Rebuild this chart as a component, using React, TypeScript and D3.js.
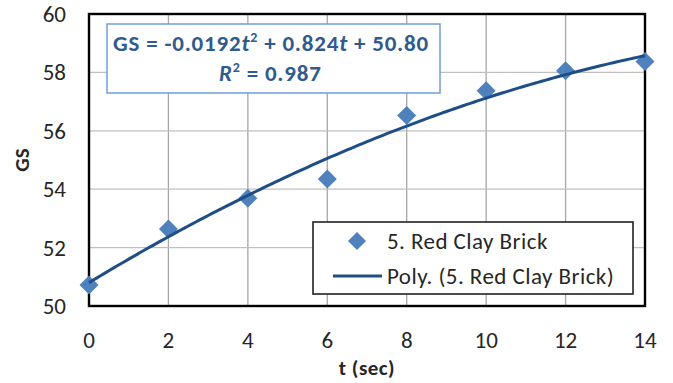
import React from "react";
import * as d3 from "d3";

const tValues = [0, 2, 4, 6, 8, 10, 12, 14];
const gsValues = [50.72, 52.64, 53.69, 54.35, 56.52, 57.37, 58.06, 58.37];
const xTicks = [0, 2, 4, 6, 8, 10, 12, 14];
const yTicks = [50, 52, 54, 56, 58, 60];
const polyCoeffs = [50.8, 0.824, -0.0192]; // c0 + c1 t + c2 t^2
const seriesName = "5. Red Clay Brick";
const trendName = "Poly. (5. Red Clay Brick)";

const W = 673;
const H = 383;
const M = { left: 89, right: 645, top: 14, bottom: 306 };
const FONT = "Carlito, 'Open Sans', 'DejaVu Sans', sans-serif";

export default function App() {
  const x = d3.scaleLinear().domain([0, 14]).range([M.left, M.right]);
  const y = d3.scaleLinear().domain([50, 60]).range([M.bottom, M.top]);
  const curvePts = d3.range(0, 14.001, 0.1).map((t) => [t, polyCoeffs[0] + polyCoeffs[1] * t + polyCoeffs[2] * t * t] as [number, number]);
  const line = d3.line<[number, number]>().x((d) => x(d[0])).y((d) => y(d[1]));
  const diamond = (cx: number, cy: number, r: number) => `M${cx},${cy - r}L${cx + r},${cy}L${cx},${cy + r}L${cx - r},${cy}Z`;
  const markerColor = "#4f81bd";
  const lineColor = "#1f4e86";
  const txt = "#262626";
  const eq = "#2f5b8f";
  return (
    <svg width={W} height={H} style={{ position: "absolute", left: 0, top: 0, background: "#fff" }} fontFamily={FONT}>
      <rect x={0} y={0} width={W} height={H} fill="#fff" />
      {xTicks.map((t) => (
        <line key={"gx" + t} x1={x(t)} x2={x(t)} y1={M.top} y2={M.bottom} stroke="#a6a6a6" strokeWidth={1.3} />
      ))}
      {yTicks.map((v) => (
        <line key={"gy" + v} x1={M.left} x2={M.right} y1={y(v)} y2={y(v)} stroke="#bfbfbf" strokeWidth={1.3} />
      ))}
      <rect x={M.left} y={M.top} width={M.right - M.left} height={M.bottom - M.top} fill="none" stroke="#000" strokeWidth={2.4} />
      {yTicks.map((v) => (
        <text key={"yl" + v} x={66} y={y(v)} dy="0.35em" textAnchor="end" fontSize={23} fill={txt}>{v}</text>
      ))}
      {xTicks.map((t) => (
        <text key={"xl" + t} x={x(t)} y={340} dy="0.35em" textAnchor="middle" fontSize={23} fill={txt}>{t}</text>
      ))}
      <text x={367} y={368} dy="0.35em" textAnchor="middle" fontSize={21} fontWeight="bold" fill={txt} letterSpacing={0.5}>t (sec)</text>
      <text transform={`translate(22,${(M.top + M.bottom) / 2}) rotate(-90)`} textAnchor="middle" dy="0.35em" fontSize={21} fontWeight="bold" fill={txt}>GS</text>
      {tValues.map((t, i) => (
        <path key={"m" + t} d={diamond(x(t), y(gsValues[i]), 9.5)} fill={markerColor} />
      ))}
      <path d={line(curvePts) || ""} fill="none" stroke={lineColor} strokeWidth={3} />
      <rect x={107} y={24} width={333} height={69} fill="#fff" stroke="#6f9fd8" strokeWidth={1.5} />
      <text x={113} y={43} dy="0.35em" fontSize={23} fill={eq} fontWeight="bold" letterSpacing={0.8}>
        GS = -0.0192<tspan fontStyle="italic">t</tspan><tspan dy={-9} fontSize={14}>2</tspan><tspan dy={9}> + 0.824</tspan><tspan fontStyle="italic">t</tspan> + 50.80
      </text>
      <text x={219} y={73} dy="0.35em" fontSize={23} fill={eq} fontWeight="bold" letterSpacing={0.8}>
        <tspan fontStyle="italic">R</tspan><tspan dy={-9} fontSize={14}>2</tspan><tspan dy={9}> = 0.987</tspan>
      </text>
      <rect x={313} y={222} width={320} height={72} fill="#fff" stroke="#222" strokeWidth={1.6} />
      <path d={diamond(357, 241, 9)} fill={markerColor} />
      <text x={387} y={241} dy="0.35em" fontSize={23} fill={txt} letterSpacing={0.45}>{seriesName}</text>
      <line x1={333} x2={382} y1={276} y2={276} stroke={lineColor} strokeWidth={3} />
      <text x={387} y={276} dy="0.35em" fontSize={23} fill={txt} letterSpacing={0.45}>{trendName}</text>
    </svg>
  );
}
